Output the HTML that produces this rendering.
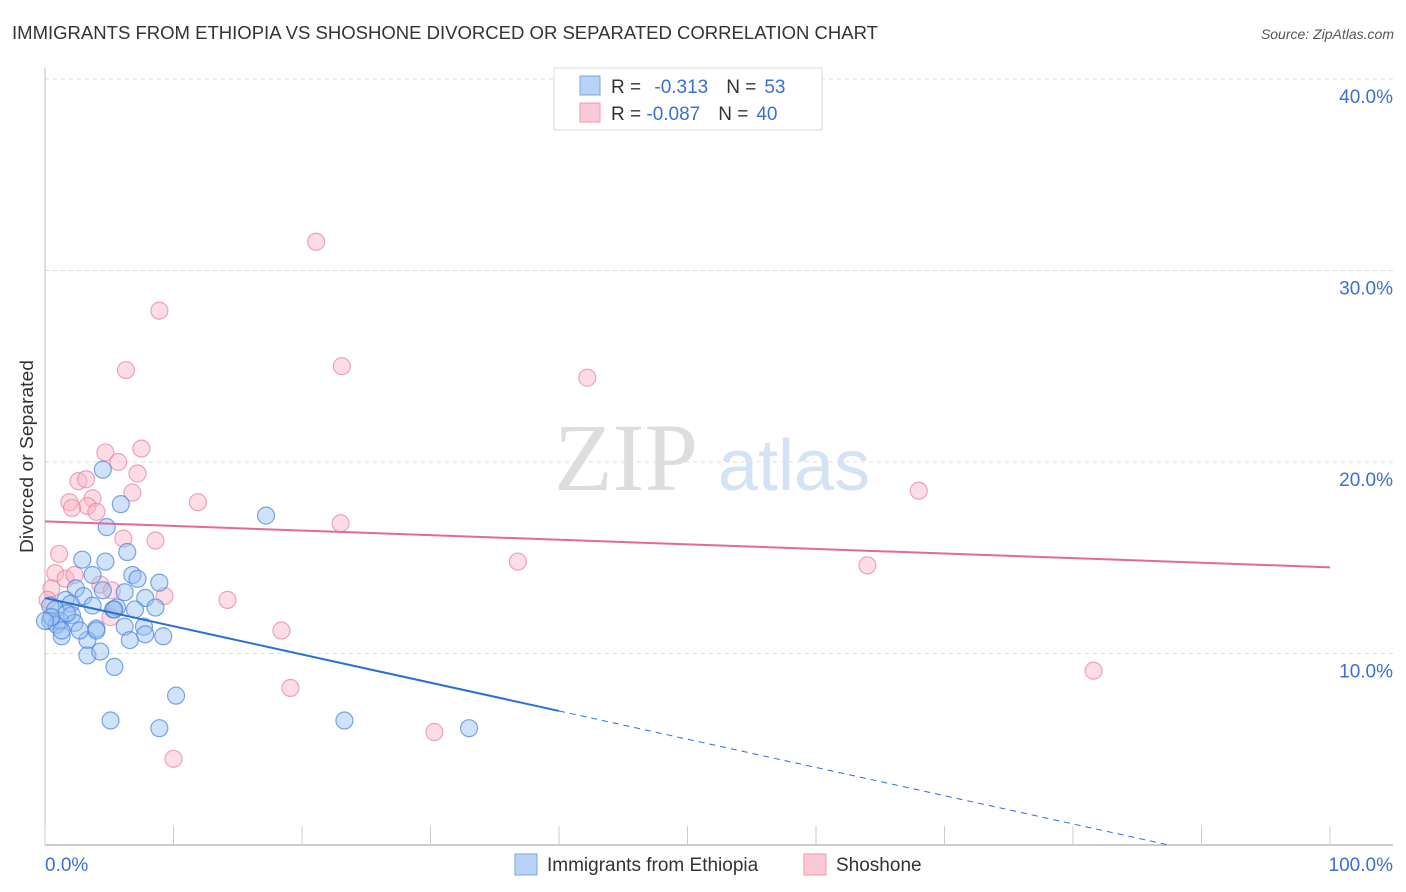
<!DOCTYPE html>
<html><head><meta charset="utf-8"><style>
body{margin:0;background:#fff;font-family:"Liberation Sans",sans-serif;}
svg{display:block}
</style></head><body>
<svg id="c" width="1406" height="892" xmlns="http://www.w3.org/2000/svg">
<text x="12" y="39" font-size="18" fill="#333" textLength="866" lengthAdjust="spacingAndGlyphs">IMMIGRANTS FROM ETHIOPIA VS SHOSHONE DIVORCED OR SEPARATED CORRELATION CHART</text>
<text x="1394" y="39" font-size="14" fill="#555" font-style="italic" text-anchor="end">Source: ZipAtlas.com</text>
<text transform="translate(33,553) rotate(-90)" font-size="18" fill="#333" textLength="193" lengthAdjust="spacingAndGlyphs">Divorced or Separated</text>
<text x="554" y="490" font-size="96" fill="#ddd" font-family="Liberation Serif,serif">ZIP</text>
<text x="718" y="490" font-size="72" fill="#d4e2f5">atlas</text>
<g id="grid"></g>
<g id="marks"></g>
<g>
<rect x="554" y="68" width="268" height="62" fill="#fff" stroke="#ddd"/>
<rect x="580" y="76" width="20" height="19" fill="#b8d3f5" stroke="#7aa7e0"/>
<rect x="580" y="103" width="20" height="19" fill="#fbc9d6" stroke="#f09ab2"/>
<text x="611" y="93" font-size="19" fill="#333">R = <tspan fill="#3a6fd4" dx="8">-0.313</tspan><tspan dx="18" fill="#333">N =</tspan><tspan dx="8" fill="#3a6fd4">53</tspan></text>
<text x="611" y="120" font-size="19" fill="#333">R = <tspan fill="#3a6fd4">-0.087</tspan><tspan dx="18" fill="#333">N =</tspan><tspan dx="8" fill="#3a6fd4">40</tspan></text>
</g>
<g>
<rect x="515" y="854" width="22" height="21" fill="#b8d3f5" stroke="#7aa7e0"/>
<text x="547" y="871" font-size="19" fill="#333">Immigrants from Ethiopia</text>
<rect x="804" y="854" width="22" height="21" fill="#fbc9d6" stroke="#f09ab2"/>
<text x="836" y="871" font-size="19" fill="#333">Shoshone</text>
</g>
</svg>
<script>
const yTicks=[10,20,30,40];
const yTickLabels=["10.0%","20.0%","30.0%","40.0%"];
const xTickLabels=["0.0%","100.0%"];
const ethX=[4.5,5.9,4.8,6.4,17.2,2.9,4.7,3.7,6.8,7.2,8.9,2.4,4.5,6.2,3.0,7.8,5.6,7.0,8.6,1.6,2.0,0.4,0.8,3.7,2.1,1.2,0.4,0.9,2.3,1.3,3.3,4.0,6.2,4.0,6.6,7.7,7.8,9.2,5.3,3.3,4.3,5.4,10.2,5.1,8.9,23.3,33.0,0.5,0.0,1.3,5.4,2.7,1.7];
const ethY=[19.6,17.8,16.6,15.3,17.2,14.9,14.8,14.1,14.1,13.9,13.7,13.4,13.3,13.2,13.0,12.9,12.4,12.3,12.4,12.8,12.6,12.5,12.3,12.5,12.0,11.7,11.7,11.5,11.6,10.9,10.7,11.3,11.4,11.2,10.7,11.4,11.0,10.9,12.3,9.9,10.1,9.3,7.8,6.5,6.1,6.5,6.1,11.9,11.7,11.2,12.3,11.2,12.1];
const shoX=[21.1,8.9,6.3,23.1,42.2,4.7,7.5,5.7,7.2,2.6,3.2,1.9,3.7,3.3,4.0,2.1,6.8,11.9,23.0,6.1,8.6,1.1,36.8,0.8,1.6,2.3,4.3,5.2,9.3,14.2,0.5,0.2,18.4,5.1,68.0,64.0,81.6,19.1,30.3,10.0];
const shoY=[31.5,27.9,24.8,25.0,24.4,20.5,20.7,20.0,19.4,19.0,19.1,17.9,18.1,17.7,17.4,17.6,18.4,17.9,16.8,16.0,15.9,15.2,14.8,14.2,13.9,14.1,13.6,13.3,13.0,12.8,13.4,12.8,11.2,11.9,18.5,14.6,9.1,8.2,5.9,4.5];
const ethTrend=[12.9,7.0];  // y at x=0 and x=40
const shoTrend=[16.9,14.5]; // y at x=0 and x=100
const X0=45,X1=1330,Y0=845,PY=19.15;
const sx=v=>X0+(X1-X0)*v/100, sy=v=>Y0-v*PY;
const NS="http://www.w3.org/2000/svg";
const grid=document.getElementById('grid'),marks=document.getElementById('marks');
function mk(p,tag,a){const e=document.createElementNS(NS,tag);for(const k in a)e.setAttribute(k,a[k]);p.appendChild(e);return e;}
yTicks.forEach((t,i)=>{
 const l=mk(grid,'line',{x1:45,x2:1393,y1:sy(t),y2:sy(t),stroke:'#ddd','stroke-dasharray':'4,4'});
 
 
 const tx=mk(grid,'text',{x:1393,y:sy(t)+24,'font-size':19,fill:'#3a6fd4','text-anchor':'end'});
 tx.textContent=yTickLabels[i];
 
 
});
const ya=mk(grid,'line',{x1:45,x2:45,y1:68,y2:845,stroke:'#bbb'});


const xa=mk(grid,'line',{x1:45,x2:1393,y1:845,y2:845,stroke:'#bbb','stroke-width':1.5});


for(let i=0;i<=10;i++){
 const t=mk(grid,'line',{x1:sx(i*10),x2:sx(i*10),y1:826,y2:845,stroke:'#ccc'});
 
 
}
[[0,'start',45],[1,'end',1393]].forEach(([i,a,x])=>{
 const t=mk(grid,'text',{x:x,y:871,'font-size':19,fill:'#3a6fd4','text-anchor':a});
 t.textContent=xTickLabels[i];
 
 
});
shoX.forEach((x,i)=>{
 const c=mk(marks,'circle',{cx:sx(x),cy:sy(shoY[i]),r:8.5,fill:'rgba(248,180,200,0.45)',stroke:'rgba(232,130,160,0.7)','stroke-width':1.2});
 
 
});
ethX.forEach((x,i)=>{
 const c=mk(marks,'circle',{cx:sx(x),cy:sy(ethY[i]),r:8.5,fill:'rgba(150,190,240,0.45)',stroke:'rgba(70,130,220,0.7)','stroke-width':1.2});
 
 
});
const sl=(ethTrend[1]-ethTrend[0])/40;
const e1=mk(marks,'line',{x1:sx(0),y1:sy(ethTrend[0]),x2:sx(40),y2:sy(ethTrend[1]),stroke:'#2a6fd6','stroke-width':2});


const xe=-ethTrend[0]/sl;
const e2=mk(marks,'line',{x1:sx(40),y1:sy(ethTrend[1]),x2:sx(xe),y2:sy(0),stroke:'#2a6fd6','stroke-width':1,'stroke-dasharray':'6,5'});


const s1=mk(marks,'line',{x1:sx(0),y1:sy(shoTrend[0]),x2:sx(100),y2:sy(shoTrend[1]),stroke:'#e8679a','stroke-width':2});


</script>
</body></html>
